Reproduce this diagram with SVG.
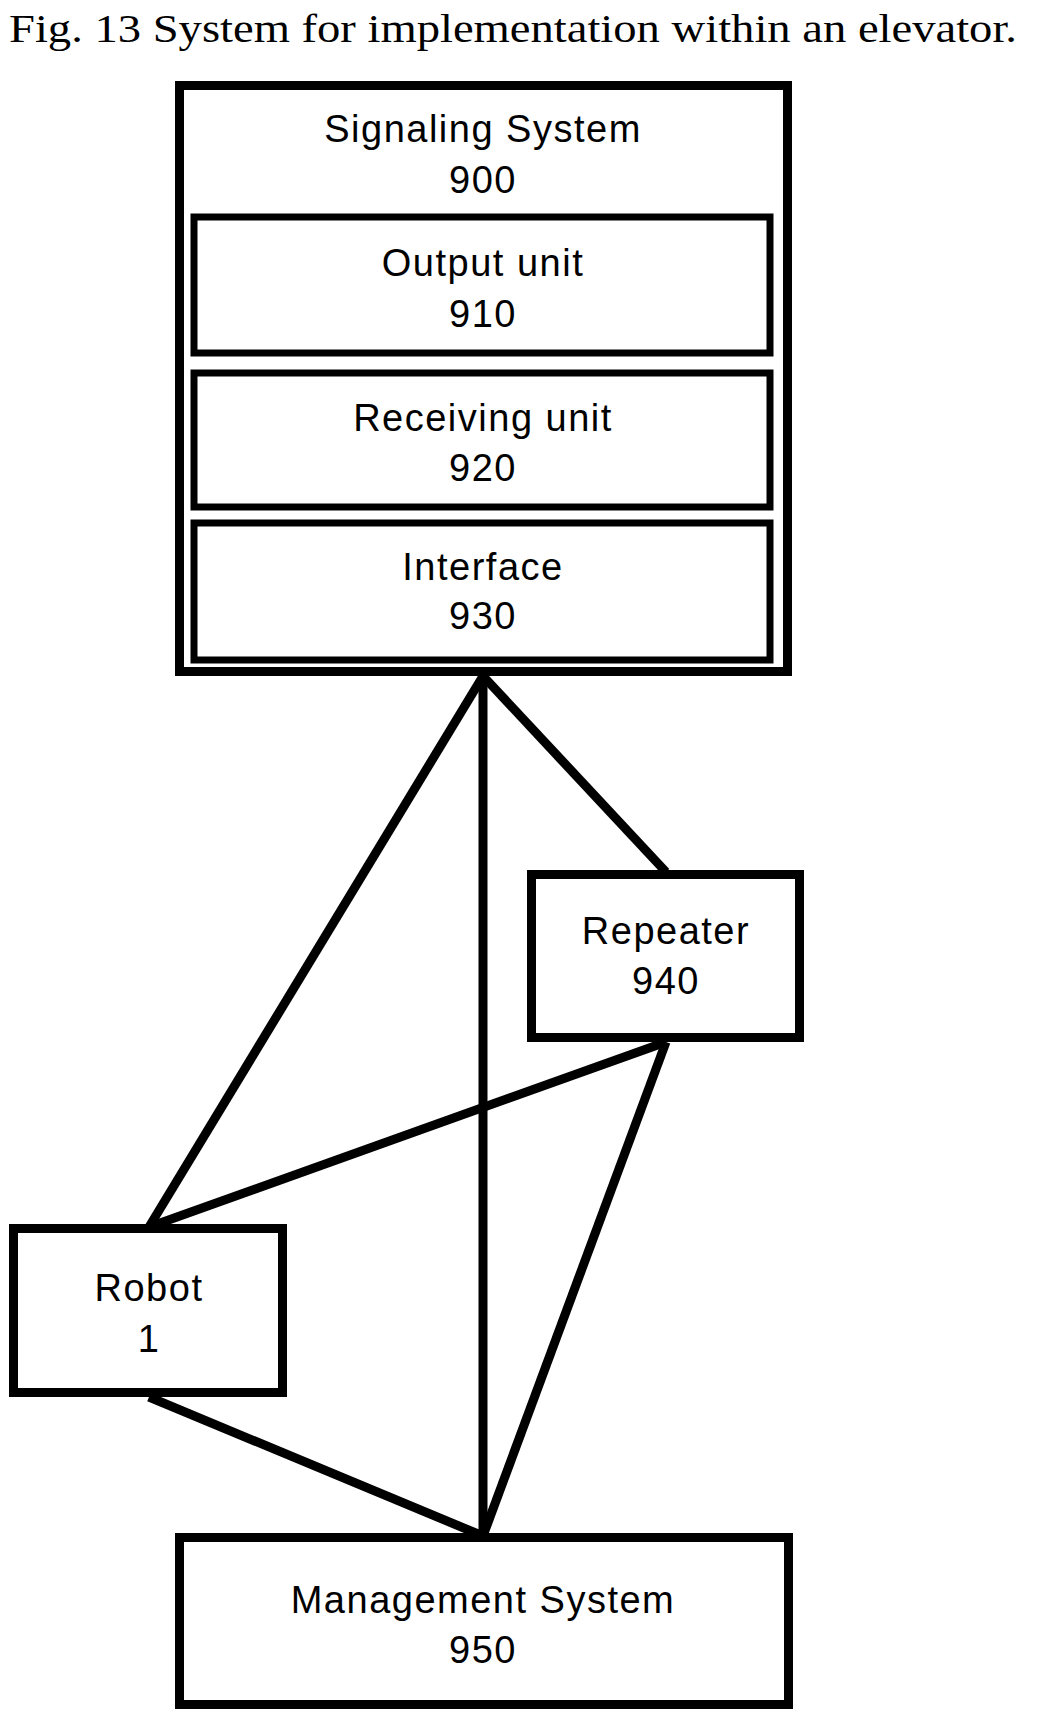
<svg xmlns="http://www.w3.org/2000/svg" width="1045" height="1730" viewBox="0 0 1045 1730">
<style>
.b{fill:#fff;stroke:#000;stroke-width:9}
.i{fill:#fff;stroke:#000;stroke-width:7}
.t{font-family:"Liberation Sans",Arial,sans-serif;font-size:38px;letter-spacing:1.5px;text-anchor:middle;fill:#000}
.c line{stroke:#000;stroke-width:9}
</style>
<rect width="1045" height="1730" fill="#fff"/>
<text x="9" y="42" font-family="Liberation Serif,'Times New Roman',serif" font-size="40" textLength="1008" lengthAdjust="spacingAndGlyphs">Fig. 13 System for implementation within an elevator.</text>
<g class="c">
<line x1="483" y1="676" x2="149" y2="1227"/>
<line x1="483" y1="676" x2="483" y2="1536"/>
<line x1="483" y1="676" x2="666" y2="872"/>
<line x1="666" y1="1042" x2="149" y2="1227"/>
<line x1="666" y1="1042" x2="483" y2="1536"/>
<line x1="149" y1="1397" x2="483" y2="1536"/>
</g>
<g id="n900">
<rect class="b" x="179.5" y="85.5" width="608" height="586"/>
<text class="t" x="483" y="142">Signaling System</text>
<text class="t" x="483" y="193">900</text>
</g>
<g id="n910">
<rect class="i" x="194" y="217" width="576" height="136"/>
<text class="t" x="483" y="276">Output unit</text>
<text class="t" x="483" y="327">910</text>
</g>
<g id="n920">
<rect class="i" x="194" y="373" width="576" height="134"/>
<text class="t" x="483" y="431">Receiving unit</text>
<text class="t" x="483" y="481">920</text>
</g>
<g id="n930">
<rect class="i" x="194" y="523" width="576" height="137"/>
<text class="t" x="483" y="580">Interface</text>
<text class="t" x="483" y="629">930</text>
</g>
<g id="n940">
<rect class="b" x="531.5" y="874.5" width="268" height="163"/>
<text class="t" x="666" y="944">Repeater</text>
<text class="t" x="666" y="994">940</text>
</g>
<g id="n1">
<rect class="b" x="13.5" y="1228.5" width="269" height="164"/>
<text class="t" x="149" y="1301">Robot</text>
<text class="t" x="149" y="1352">1</text>
</g>
<g id="n950">
<rect class="b" x="179.5" y="1537.5" width="609" height="167"/>
<text class="t" x="483" y="1613">Management System</text>
<text class="t" x="483" y="1663">950</text>
</g>
</svg>
